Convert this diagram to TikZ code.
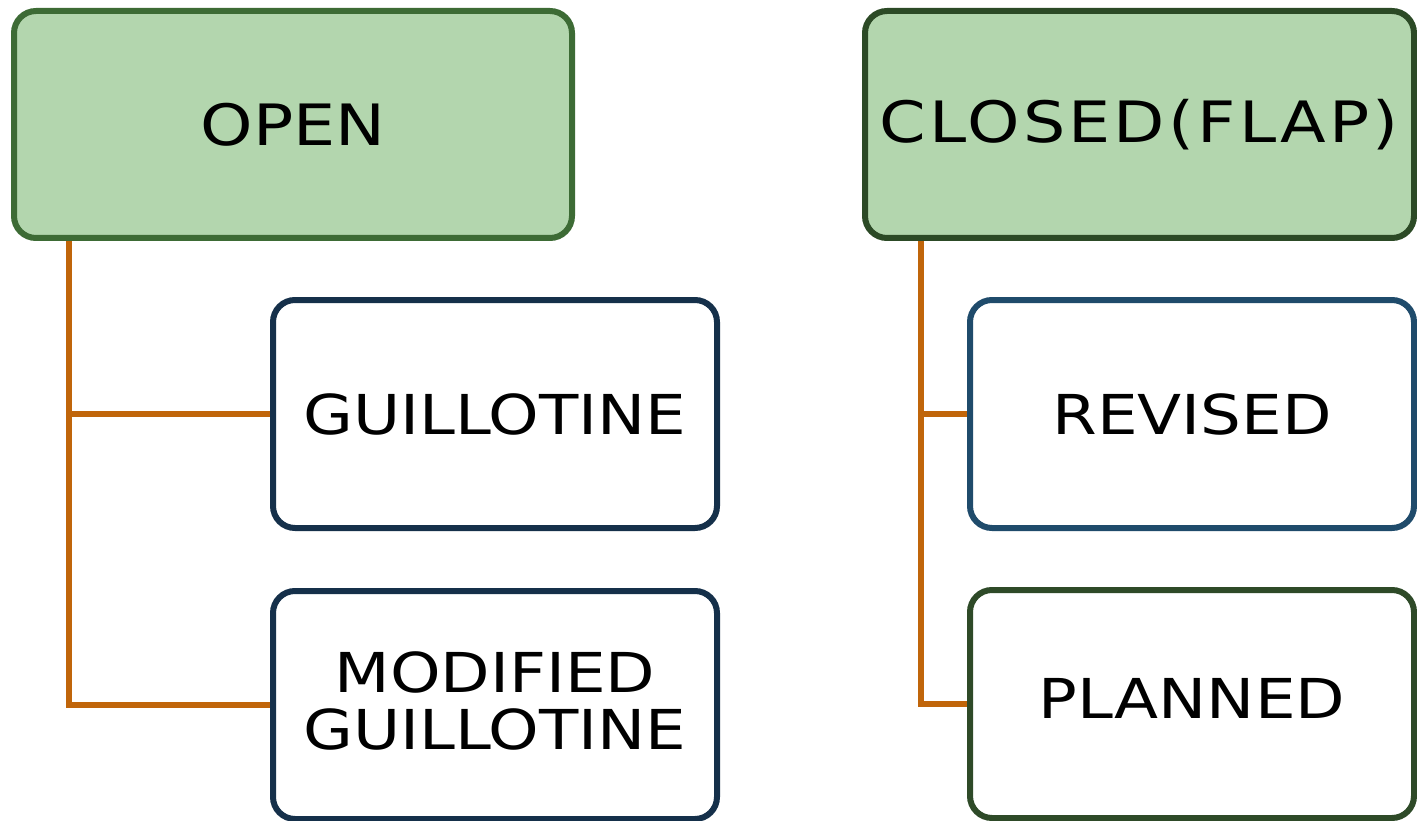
\documentclass[tikz,border=0pt]{standalone}
\usepackage{fontspec}
\setmainfont{DejaVu Sans}[FakeStretch=1.17]
\definecolor{boxfill}{HTML}{B3D6AE}
\definecolor{openborder}{HTML}{3D6B35}
\definecolor{closedborder}{HTML}{2C4A26}
\definecolor{guillborder}{HTML}{15304A}
\definecolor{revisedborder}{HTML}{1F4B6B}
\definecolor{plannedborder}{HTML}{2E4A28}
\definecolor{connorange}{HTML}{C0650A}
\tikzset{
  topbox/.style={draw, line width=6pt, rounded corners=22pt, fill=boxfill,
    inner sep=0pt, minimum height=227pt, align=center,
    font=\fontsize{57}{57}\selectfont},
  subbox/.style={draw, line width=6pt, rounded corners=22pt, fill=white,
    inner sep=0pt, minimum width=444pt, minimum height=228pt, align=center,
    font=\fontsize{55}{57}\selectfont},
  lowtext/.style={text height=40pt, text depth=12pt},
  conn/.style={draw=connorange, line width=5.5pt}
}
\begin{document}
\begin{tikzpicture}[x=1pt, y=-1pt]
\useasboundingbox (0,0) rectangle (1417,821);
\node[topbox, draw=openborder, minimum width=558pt] (open) at (293,124.5) {OPEN};
\node[topbox, draw=closedborder, minimum width=549pt] (closed) at (1139.5,124.5) {\addfontfeatures{LetterSpace=5.5}CLOSED(FLAP)};
\node[subbox, draw=guillborder] (guill) at (495,414) {GUILLOTINE};
\node[subbox, draw=guillborder, text depth=8pt] (mod) at (495,705) {MODIFIED\\GUILLOTINE};
\node[subbox, draw=revisedborder] (revised) at (1192,414) {REVISED};
\node[subbox, draw=plannedborder, lowtext] (planned) at (1192,704) {PLANNED};
\draw[conn] ([xshift=58pt]open.south west) |- (guill.west);
\draw[conn] ([xshift=58pt]open.south west) |- (mod.west);
\draw[conn] ([xshift=59pt]closed.south west) |- (revised.west);
\draw[conn] ([xshift=59pt]closed.south west) |- (planned.west);
\end{tikzpicture}
\end{document}
